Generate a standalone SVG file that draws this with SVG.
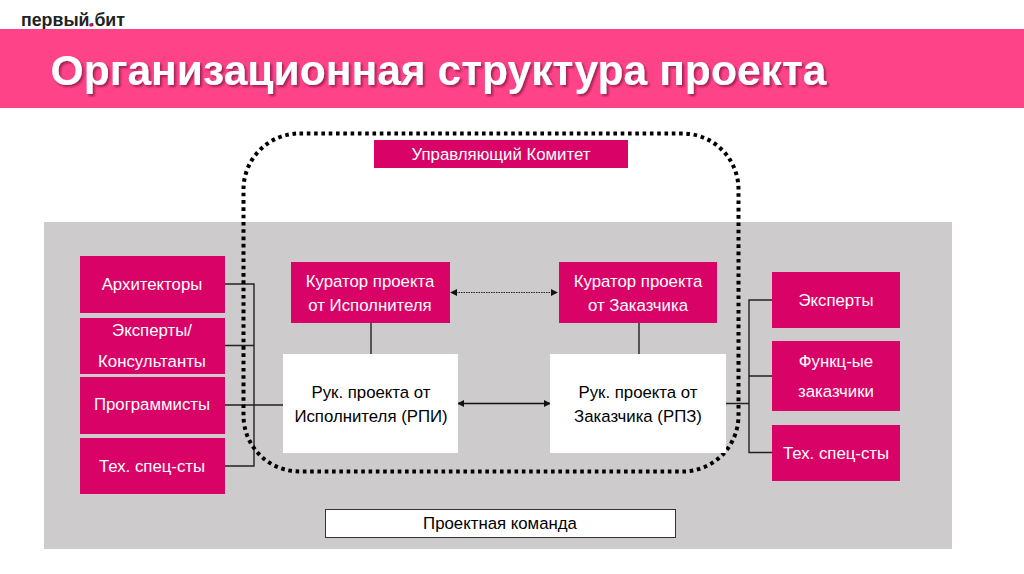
<svg xmlns="http://www.w3.org/2000/svg" width="1024" height="574" viewBox="0 0 1024 574">
<style>
text{font-family:"Liberation Sans",Arial,sans-serif;text-anchor:middle}
.p{fill:#d90368}
.w{fill:#fff}
.pt{fill:#fff;font-size:16.800px}
.bt{fill:#000;font-size:16.800px}
.c{fill:none;stroke:#222;stroke-width:1.400}
</style>
<defs>
<marker id="a" viewBox="0 0 8 8" refX="7" refY="4" markerWidth="7" markerHeight="7" markerUnits="userSpaceOnUse" orient="auto-start-reverse"><path d="M0 0L8 4L0 8Z" fill="#111"/></marker>
<filter id="s" x="-5%" y="-20%" width="110%" height="140%"><feDropShadow dx="2" dy="2" stdDeviation="1.200" flood-color="#7a1040" flood-opacity=".7"/></filter>
</defs>
<rect width="1024" height="574" fill="#fff"/>
<g id="logo"><text x="21" y="26" textLength="104" lengthAdjust="spacingAndGlyphs" style="font-size:19px;font-weight:700;fill:#222;text-anchor:start">первый.бит</text><circle cx="91" cy="25" r="1.800" fill="#d90368"/></g>
<g id="title"><rect y="29" width="1024" height="79" fill="#ff4388"/>
<text x="438.500" y="85" filter="url(#s)" style="font-size:42.600px;font-weight:700;fill:#fff">Организационная структура проекта</text></g>
<rect id="team-area" x="44" y="222" width="908" height="327" fill="#cdcbcc"/>
<g id="connectors">
<path class="c" d="M225 284H254V466H225M225 345.500H254M225 405H283"/>
<path class="c" d="M371 323V354M639 323V354"/>
<path class="c" d="M726 403.500H749M772 300H749V452.500H772M749 376H772"/>
<path d="M451 292.500H557" fill="none" stroke="#222" stroke-width="1" stroke-dasharray="1.500 1" marker-start="url(#a)" marker-end="url(#a)"/>
<path d="M458 403.500H550" fill="none" stroke="#111" stroke-width="1.400" marker-start="url(#a)" marker-end="url(#a)"/>
</g>
<rect id="committee-boundary" x="243.500" y="133.500" width="495" height="338" rx="56" fill="none" stroke="#000" stroke-width="4" stroke-dasharray="3.600 3.700"/>
<g id="committee"><rect class="p" x="374" y="140" width="254" height="28"/><text class="pt" x="501" y="160">Управляющий Комитет</text></g>
<g id="architects"><rect class="p" x="80" y="256" width="145" height="57"/><text class="pt" x="152" y="290">Архитекторы</text></g>
<g id="experts-left"><rect class="p" x="80" y="318" width="145" height="56"/><text class="pt" x="152" y="336">Эксперты/</text><text class="pt" x="152" y="367">Консультанты</text></g>
<g id="programmers"><rect class="p" x="80" y="377" width="145" height="57"/><text class="pt" x="152" y="410">Программисты</text></g>
<g id="tech-left"><rect class="p" x="80" y="438" width="145" height="56"/><text class="pt" x="152" y="472">Тех. спец-сты</text></g>
<g id="curator-exec"><rect class="p" x="291" y="262" width="159" height="61"/><text class="pt" x="370" y="287">Куратор проекта</text><text class="pt" x="370" y="311">от Исполнителя</text></g>
<g id="curator-client"><rect class="p" x="559" y="262" width="158" height="61"/><text class="pt" x="638" y="287">Куратор проекта</text><text class="pt" x="638" y="311">от Заказчика</text></g>
<g id="pm-exec"><rect class="w" x="283" y="354" width="175" height="99"/><text class="bt" x="371" y="398">Рук. проекта от</text><text class="bt" x="371" y="422">Исполнителя (РПИ)</text></g>
<g id="pm-client"><rect class="w" x="550" y="354" width="176" height="99"/><text class="bt" x="638" y="398">Рук. проекта от</text><text class="bt" x="638" y="422">Заказчика (РПЗ)</text></g>
<g id="experts-right"><rect class="p" x="772" y="272" width="128" height="56"/><text class="pt" x="836" y="306">Эксперты</text></g>
<g id="func-client"><rect class="p" x="772" y="341" width="128" height="70"/><text class="pt" x="836" y="367">Функц-ые</text><text class="pt" x="836" y="397">заказчики</text></g>
<g id="tech-right"><rect class="p" x="772" y="425" width="128" height="56"/><text class="pt" x="836" y="459">Тех. спец-сты</text></g>
<g id="project-team"><rect x="325.500" y="509.500" width="350" height="28" fill="#fff" stroke="#333"/><text class="bt" x="500" y="529">Проектная команда</text></g>
</svg>
